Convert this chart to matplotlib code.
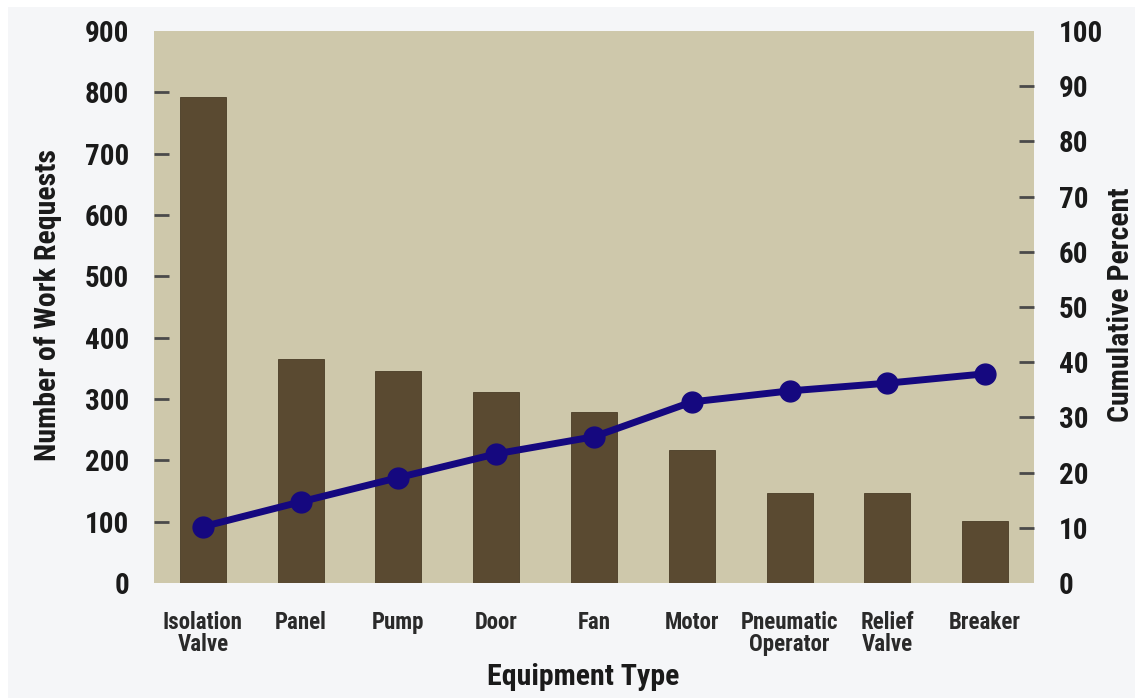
import matplotlib.pyplot as plt
from matplotlib.patches import Rectangle

# work requests per equipment type, with cumulative percent
equipment = ["Isolation\nValve", "Panel", "Pump", "Door", "Fan", "Motor",
             "Pneumatic\nOperator", "Relief\nValve", "Breaker"]
requests = [792, 365, 346, 312, 278, 217, 147, 147, 101]
cumulative_pct = [10.2, 14.7, 19.1, 23.4, 26.5, 32.8, 34.8, 36.2, 37.9]

left_ticks = [0, 100, 200, 300, 400, 500, 600, 700, 800, 900]
right_ticks = [0, 10, 20, 30, 40, 50, 60, 70, 80, 90, 100]

TAN = "#cec8ab"
BAR = "#5a4a31"
NAVY = "#15087f"
INK = "#1a1a1a"

plt.rcParams["font.family"] = ["Roboto Condensed", "DejaVu Sans"]
plt.rcParams["font.weight"] = "bold"

fig = plt.figure(figsize=(11.35, 6.98), dpi=100, facecolor="white")
fig.patches.append(Rectangle((8 / 1135, 0), 1, 1 - 7 / 698, transform=fig.transFigure,
                             facecolor="#f5f6f8", edgecolor="none", zorder=-10))

ax = fig.add_axes([154 / 1135, 1 - 583 / 698, 880 / 1135, 552 / 698])
ax.set_facecolor(TAN)
for s in ax.spines.values():
    s.set_visible(False)

x = range(len(equipment))
ax.bar(x, requests, width=0.47, color=BAR, edgecolor="#4a3c26", linewidth=0.6, zorder=2)
ax.set_xlim(-0.5, len(equipment) - 0.5)
ax.set_ylim(0, 900)
ax.set_yticks(left_ticks)
ax.set_yticklabels([str(t) for t in left_ticks], fontsize=21, fontweight="bold", color=INK)
# short inside dashes only between the ends of the scale
ax.yaxis.remove_overlapping_locs = False
ax.set_yticks(left_ticks[1:-1], minor=True)
ax.set_xticks(list(x))
ax.set_xticklabels(equipment, fontsize=16.5, fontweight="bold", color="#2a2a2a",
                   linespacing=0.95, va="top")
ax.tick_params(axis="x", length=0, pad=20)
ax.tick_params(axis="y", which="major", length=0, pad=18)
ax.tick_params(axis="y", which="minor", direction="in", length=11, width=2, color="#4a4a4a")

ax2 = ax.twinx()
for s in ax2.spines.values():
    s.set_visible(False)
ax2.plot(list(x), cumulative_pct, color=NAVY, linewidth=5, marker="o",
         markersize=15, zorder=3)
ax2.set_ylim(0, 100)
ax2.set_yticks(right_ticks)
ax2.set_yticklabels([str(t) for t in right_ticks], fontsize=21, fontweight="bold", color=INK)
ax2.yaxis.remove_overlapping_locs = False
ax2.set_yticks(right_ticks[1:-1], minor=True)
ax2.tick_params(axis="y", which="major", length=0, pad=18)
ax2.tick_params(axis="y", which="minor", direction="in", length=11, width=2, color="#4a4a4a")

fig.text(48 / 1135, 1 - 305 / 698, "Number of Work Requests", rotation=90,
         ha="center", va="center", fontsize=21.5, fontweight="bold", color=INK)
fig.text(1121 / 1135, 1 - 305 / 698, "Cumulative Percent", rotation=90,
         ha="center", va="center", fontsize=21.5, fontweight="bold", color=INK)
fig.text(583 / 1135, 1 - 677 / 698, "Equipment Type",
         ha="center", va="center", fontsize=21.5, fontweight="bold", color=INK)

fig.savefig("out.png", dpi=100, facecolor=fig.get_facecolor())
